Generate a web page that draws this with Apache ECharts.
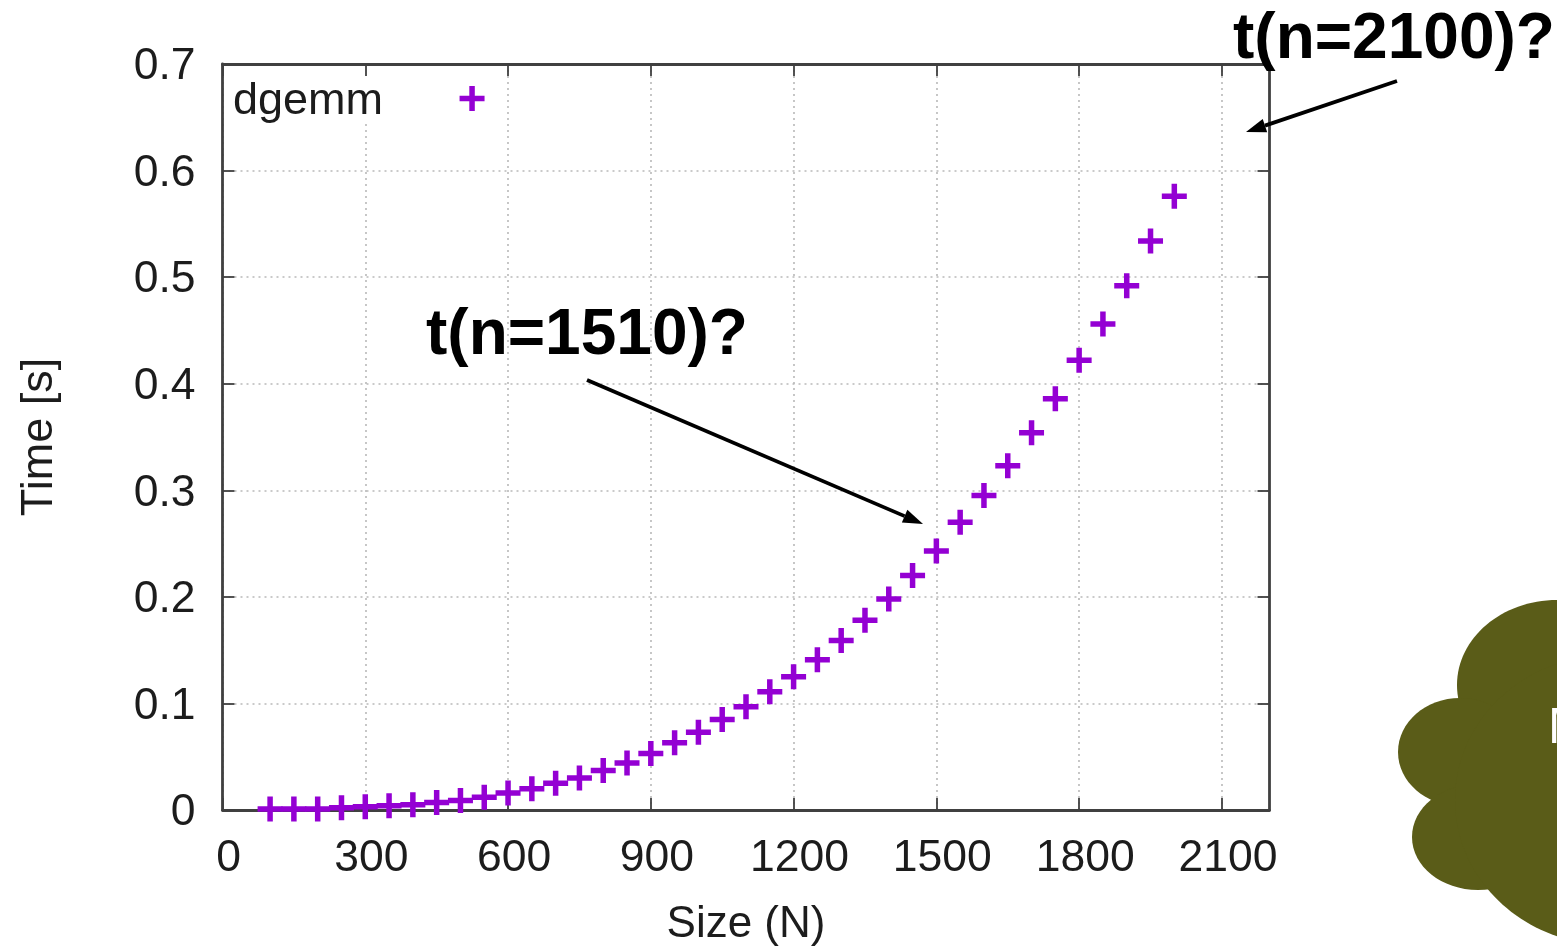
<!DOCTYPE html>
<html>
<head>
<meta charset="utf-8">
<style>html,body{margin:0;padding:0;background:#fff}#c{width:1557px;height:948px}</style>
<script src="https://cdn.jsdelivr.net/npm/echarts@6/dist/echarts.min.js"></script>
</head>
<body>
<div id="c"></div>
<script>
const sizes = [100,150,200,250,300,350,400,450,500,550,600,650,700,750,800,850,900,950,1000,1050,1100,1150,1200,1250,1300,1350,1400,1450,1500,1550,1600,1650,1700,1750,1800,1850,1900,1950,2000];
const times = [0.001,0.001,0.001,0.002,0.003,0.004,0.005,0.007,0.009,0.012,0.016,0.020,0.025,0.030,0.037,0.044,0.053,0.063,0.073,0.085,0.097,0.111,0.125,0.141,0.159,0.178,0.198,0.220,0.243,0.270,0.295,0.323,0.354,0.386,0.422,0.456,0.492,0.534,0.576];
const xTicks = [0,300,600,900,1200,1500,1800,2100];
const seriesName = 'dgemm';
const xTitle = 'Size (N)';
const yTitle = 'Time [s]';
const note1 = 't(n=1510)?';
const note2 = 't(n=2100)?';

const plus = 'path://M9.75 0H15.25V9.75H25V15.25H15.25V25H9.75V15.25H0V9.75H9.75Z';
const ink = '#1c1c1c', frame = '#404040', dot = '#b9b9b9', purple = '#9400d3', olive = '#5a5c18';
const font = '"Liberation Sans", Arial, sans-serif';

function arrow(x1,y1,x2,y2){
  const a = Math.atan2(y2-y1,x2-x1), L=20, W=7;
  const bx=x2-L*Math.cos(a), by=y2-L*Math.sin(a);
  const px=-Math.sin(a), py=Math.cos(a);
  return [
    {type:'line',z:20,shape:{x1,y1,x2:bx,y2:by},style:{stroke:'#000',lineWidth:3.8}},
    {type:'polygon',z:20,shape:{points:[[x2,y2],[bx+px*W,by+py*W],[bx-px*W,by-py*W]]},style:{fill:'#000'}}
  ];
}
function blob(cx,cy,rx,ry){return {type:'ellipse',z:10,shape:{cx,cy,rx,ry},style:{fill:olive}};}

const xBase = {type:'value',min:0,max:2200};
const yBase = {type:'value',min:0,max:0.7,interval:0.1};
const line = {show:true,onZero:false,lineStyle:{color:frame,width:2.8}};
const chart = echarts.init(document.getElementById('c'));
chart.setOption({
  animation:false,
  backgroundColor:'#fff',
  textStyle:{fontFamily:font},
  grid:{left:222.5,top:64,width:1047,height:746,containLabel:false,outerBoundsMode:'none'},
  legend:{
    left:224,top:65,align:'right',orient:'vertical',
    padding:[8,0,0,9],backgroundColor:'#fff',z:4,
    itemWidth:168,itemHeight:25,
    formatter:'{a|{name}}',
    textStyle:{rich:{a:{fontFamily:font,fontSize:45,color:ink,lineHeight:44,padding:[6,0,0,0]}}},
    data:[{name:seriesName,icon:plus}]
  },
  xAxis:[
    Object.assign({},xBase,{
      position:'bottom',name:xTitle,nameLocation:'middle',nameGap:93,
      nameTextStyle:{fontSize:44,color:ink,fontFamily:font},
      axisLine:line,
      axisTick:{show:true,inside:true,length:12,customValues:xTicks,lineStyle:{color:frame,width:1.8}},
      axisLabel:{show:true,customValues:xTicks,margin:26,fontSize:44.5,color:ink,fontFamily:font,padding:[0,0,0,12],formatter:v=>String(v)},
      splitLine:{show:true,lineStyle:{color:dot,type:[2,4],width:1.6}}
    }),
    Object.assign({},xBase,{
      position:'top',z:6,
      axisLine:line,
      axisTick:{show:true,inside:true,length:12,customValues:xTicks,lineStyle:{color:frame,width:1.8}},
      axisLabel:{show:false},splitLine:{show:false}
    })
  ],
  yAxis:[
    Object.assign({},yBase,{
      position:'left',name:yTitle,nameLocation:'middle',nameGap:160,nameRotate:90,
      nameTextStyle:{fontSize:45,color:ink,fontFamily:font},
      axisLine:line,
      axisTick:{show:true,inside:true,length:12,lineStyle:{color:frame,width:1.8}},
      axisLabel:{show:true,margin:27,formatter:v=>'{a|'+(v===0?'0':v.toFixed(1))+'}',
        rich:{a:{fontSize:44.5,color:ink,fontFamily:font,lineHeight:44,padding:[6,0,0,0]}}},
      splitLine:{show:true,lineStyle:{color:dot,type:[2,4],width:1.6}}
    }),
    Object.assign({},yBase,{
      position:'right',z:6,
      axisLine:line,
      axisTick:{show:true,inside:true,length:12,lineStyle:{color:frame,width:1.8}},
      axisLabel:{show:false},splitLine:{show:false}
    })
  ],
  series:[{
    name:seriesName,type:'scatter',clip:false,z:8,
    symbol:plus,symbolSize:25,
    itemStyle:{color:purple,opacity:1},
    data:sizes.map((s,i)=>[s,times[i]])
  }],
  graphic:[
    blob(1557,685,100,85),
    blob(1460,752,62,54),
    blob(1478,837,66,53),
    blob(1610,800,155,145),
    {type:'text',z:11,left:1548,top:704,style:{text:'M',fill:'#fff',font:'50px '+font}},
    {type:'text',z:20,left:426,top:304,style:{text:note1,fill:'#000',font:'bold 64px '+font}},
    {type:'text',z:20,left:1233,top:8,style:{text:note2,fill:'#000',font:'bold 64px '+font}},
    ...arrow(587,380,923,524),
    ...arrow(1397,81,1246,132)
  ]
});
</script>
</body>
</html>
